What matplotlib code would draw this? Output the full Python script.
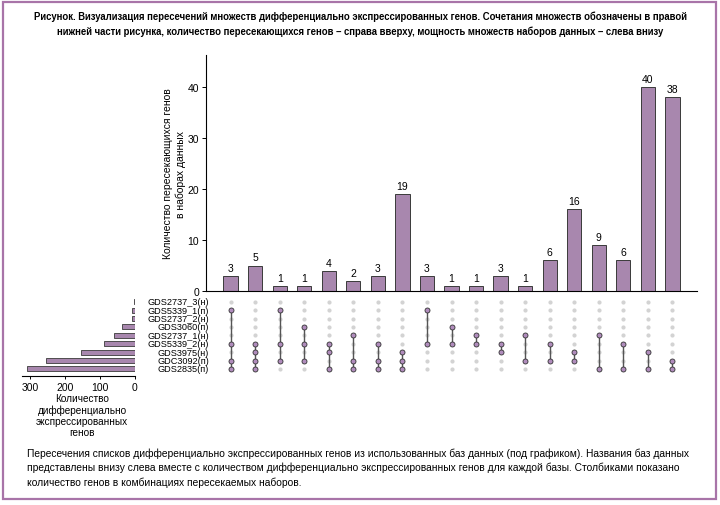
import numpy as np
import matplotlib
matplotlib.use('Agg')
import matplotlib.pyplot as plt
from matplotlib.patches import Rectangle
import matplotlib.transforms as mtransforms

plt.rcParams['font.family'] = ['Liberation Sans', 'DejaVu Sans']

sets = ['GDS2737_3(н)', 'GDS5339_1(п)', 'GDS2737_2(н)', 'GDS3060(п)', 'GDS2737_1(н)',
        'GDS5339_2(н)', 'GDS3975(н)', 'GDC3092(п)', 'GDS2835(п)']
set_sizes = [2, 8, 8, 38, 60, 89, 154, 255, 308]
counts = [3, 5, 1, 1, 4, 2, 3, 19, 3, 1, 1, 3, 1, 6, 16, 9, 6, 40, 38]
combos = [(1, 5, 7, 8), (5, 6, 7, 8), (1, 5, 7), (3, 5, 7), (5, 6, 8), (4, 7, 8),
          (5, 7, 8), (6, 7, 8), (1, 5), (3, 5), (4, 5), (5, 6), (4, 7), (5, 7),
          (6, 7), (4, 8), (5, 8), (6, 8), (7, 8)]

title = ('Рисунок. Визуализация пересечений множеств дифференциально экспрессированных генов. '
         'Сочетания множеств обозначены в правой\nнижней части рисунка, количество '
         'пересекающихся генов – справа вверху, мощность множеств наборов данных – слева внизу')
caption = ('Пересечения списков дифференциально экспрессированных генов из использованных баз данных '
           '(под графиком). Названия баз данных\nпредставлены внизу слева вместе с количеством '
           'дифференциально экспрессированных генов для каждой базы. Столбиками показано\n'
           'количество генов в комбинациях пересекаемых наборов.')

bar_col = '#a887ae'
dot_col = '#b08cbc'
W, H = 720, 506

fig = plt.figure(figsize=(7.2, 5.06), dpi=100)

def box(x0, y0, x1, y1):
    return [x0 / W, 1 - y1 / H, (x1 - x0) / W, (y1 - y0) / H]

# frame
fig.patches.append(Rectangle((3 / W, 1 - 500 / H), 713 / W, 497 / H, transform=fig.transFigure,
                             fill=False, edgecolor='#a874a8', linewidth=1.6))

fig.text(0.5, 1 - 24 / H, title, ha='center', va='center', fontsize=6.85, fontweight='bold',
         linespacing=1.5)
fig.text(27 / W, 1 - 468 / H, caption, ha='left', va='center', fontsize=7.4, linespacing=1.45)

n = len(counts)
xs = np.arange(n)

# intersection bars
ax_b = fig.add_axes(box(206, 56, 697, 292))
ax_b.bar(xs, counts, width=0.58, color=bar_col, edgecolor='#3a3a3a', linewidth=0.7)
for x, c in zip(xs, counts):
    ax_b.text(x, c + 0.6, str(c), ha='center', va='bottom', fontsize=7.5)
ax_b.set_xlim(-1, n)
ax_b.set_ylim(0, 46.3)
ax_b.set_yticks([0, 10, 20, 30, 40])
ax_b.set_xticks([])
ax_b.spines[['top', 'right']].set_visible(False)
ax_b.tick_params(axis='y', labelsize=7.5, length=3, width=0.7, pad=2)
ax_b.set_ylabel('Количество пересекающихся генов\nв наборах данных', fontsize=7.5,
                linespacing=1.3, labelpad=1)

# matrix
ax_m = fig.add_axes(box(206, 298.5, 697, 374.2))
ax_m.set_xlim(-1, n)
ax_m.set_ylim(len(sets) - 0.5, -0.5)
for x, combo in enumerate(combos):
    ax_m.scatter([x] * len(sets), range(len(sets)), s=9, color='#d3d3d3', zorder=1, linewidths=0)
    ax_m.plot([x, x], [min(combo), max(combo)], color='#555555', lw=1.0, zorder=2)
    ax_m.scatter([x] * len(combo), combo, s=13, color=dot_col, edgecolor='#333333',
                 linewidths=0.6, zorder=3)
ax_m.axis('off')

trans = mtransforms.blended_transform_factory(fig.transFigure, ax_m.transData)
for i, s in enumerate(sets):
    ax_m.text(209 / W, i, s, transform=trans, ha='right', va='center', fontsize=6.6)

# set sizes
ax_s = fig.add_axes(box(21.7, 298.5, 135, 377))
ax_s.barh(range(len(sets)), set_sizes, height=0.6, color=bar_col, edgecolor='#3a3a3a',
          linewidth=0.6)
ax_s.set_ylim(8.85, -0.5)
ax_s.set_xlim(324, 0)
ax_s.set_xticks([300, 200, 100, 0])
ax_s.set_yticks([])
ax_s.spines[['top', 'right', 'left']].set_visible(False)
ax_s.tick_params(axis='x', labelsize=7.5, length=2, width=0.7, pad=2)
fig.text(82 / W, 1 - 416 / H, 'Количество\nдифференциально\nэкспрессированных\nгенов',
         ha='center', va='center', fontsize=7.2, linespacing=1.15)

fig.savefig('out.png', dpi=100)
